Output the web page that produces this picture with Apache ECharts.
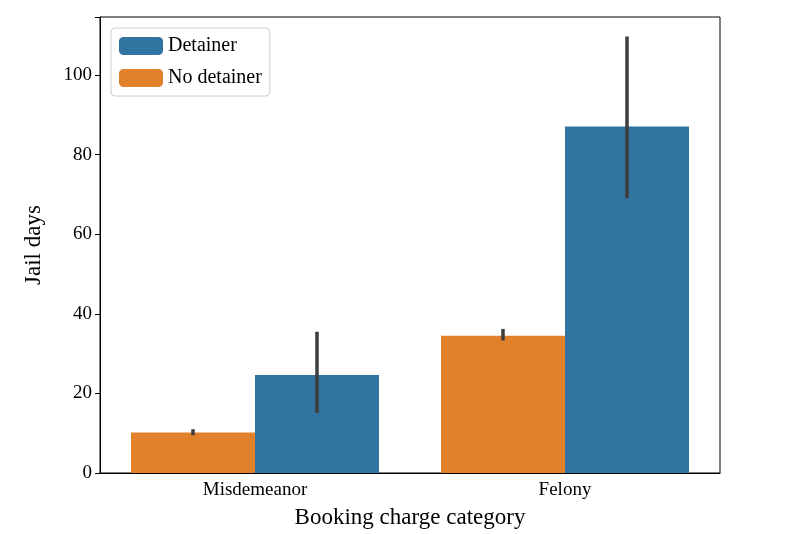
<!DOCTYPE html>
<html>
<head>
<meta charset="UTF-8">
<script src="https://cdn.jsdelivr.net/npm/echarts@6/dist/echarts.min.js"></script>
</head>
<body style="margin:0">
<div id="container" style="width:800px;height:534px"></div>
<script>
const categories = ['Misdemeanor', 'Felony'];
const noDetMean = [10.2, 34.5];
const noDetLo = [9.5, 33.3];
const noDetHi = [11.0, 36.2];
const detMean = [24.6, 87.1];
const detLo = [15.1, 69.0];
const detHi = [35.5, 109.7];

const font = 'Liberation Serif';
const chart = echarts.init(document.getElementById('container'));

function errBar(lo, hi, side) {
    return {
        type: 'custom',
        silent: true,
        z: 10,
        data: categories.map((c, i) => [i, lo[i], hi[i]]),
        renderItem: function (params, api) {
            const bw = api.size([1, 0])[0];
            const a = api.coord([api.value(0), api.value(1)]);
            const b = api.coord([api.value(0), api.value(2)]);
            const x = a[0] + side * bw * 0.2;
            return {
                type: 'line',
                shape: {x1: x, y1: a[1], x2: x, y2: b[1]},
                style: {stroke: '#3d3d3d', lineWidth: 3.5}
            };
        }
    };
}

const option = {
    animation: false,
    grid: {left: 100, right: 80, top: 17, bottom: 55, show: true, borderColor: '#000', borderWidth: 1},
    legend: {
        left: 111, top: 28, orient: 'vertical', itemWidth: 44, itemHeight: 18, itemGap: 12,
        padding: [8, 8, 8, 8], borderColor: '#ccc', borderWidth: 1, borderRadius: 4,
        backgroundColor: '#fff',
        textStyle: {fontFamily: font, fontSize: 20, color: '#000'},
        data: ['Detainer', 'No detainer']
    },
    xAxis: {
        type: 'category', data: categories,
        name: 'Booking charge category', nameLocation: 'middle', nameGap: 33,
        nameTextStyle: {fontFamily: font, fontSize: 23, color: '#000'},
        axisLine: {lineStyle: {color: '#000'}},
        axisTick: {alignWithLabel: true, length: 5, lineStyle: {color: '#000'}},
        axisLabel: {fontFamily: font, fontSize: 19, color: '#000', margin: 8}
    },
    yAxis: {
        type: 'value', min: 0, max: 114.6, interval: 20,
        name: 'Jail days', nameLocation: 'middle', nameGap: 55,
        nameTextStyle: {fontFamily: font, fontSize: 23, color: '#000'},
        splitLine: {show: false},
        axisLine: {show: true, lineStyle: {color: '#000'}},
        axisTick: {show: true, length: 5, lineStyle: {color: '#000'}},
        axisLabel: {fontFamily: font, fontSize: 19, color: '#000', margin: 8,
            formatter: v => (Math.abs(v % 20) < 1e-6 ? String(v) : '')}
    },
    series: [
        {name: 'No detainer', type: 'bar', data: noDetMean, barWidth: '40%', barGap: '0%',
         itemStyle: {color: '#e1812c'}},
        {name: 'Detainer', type: 'bar', data: detMean, barWidth: '40%', barGap: '0%',
         itemStyle: {color: '#3274a1'}},
        errBar(noDetLo, noDetHi, -1),
        errBar(detLo, detHi, 1)
    ]
};
chart.setOption(option);
</script>
</body>
</html>
